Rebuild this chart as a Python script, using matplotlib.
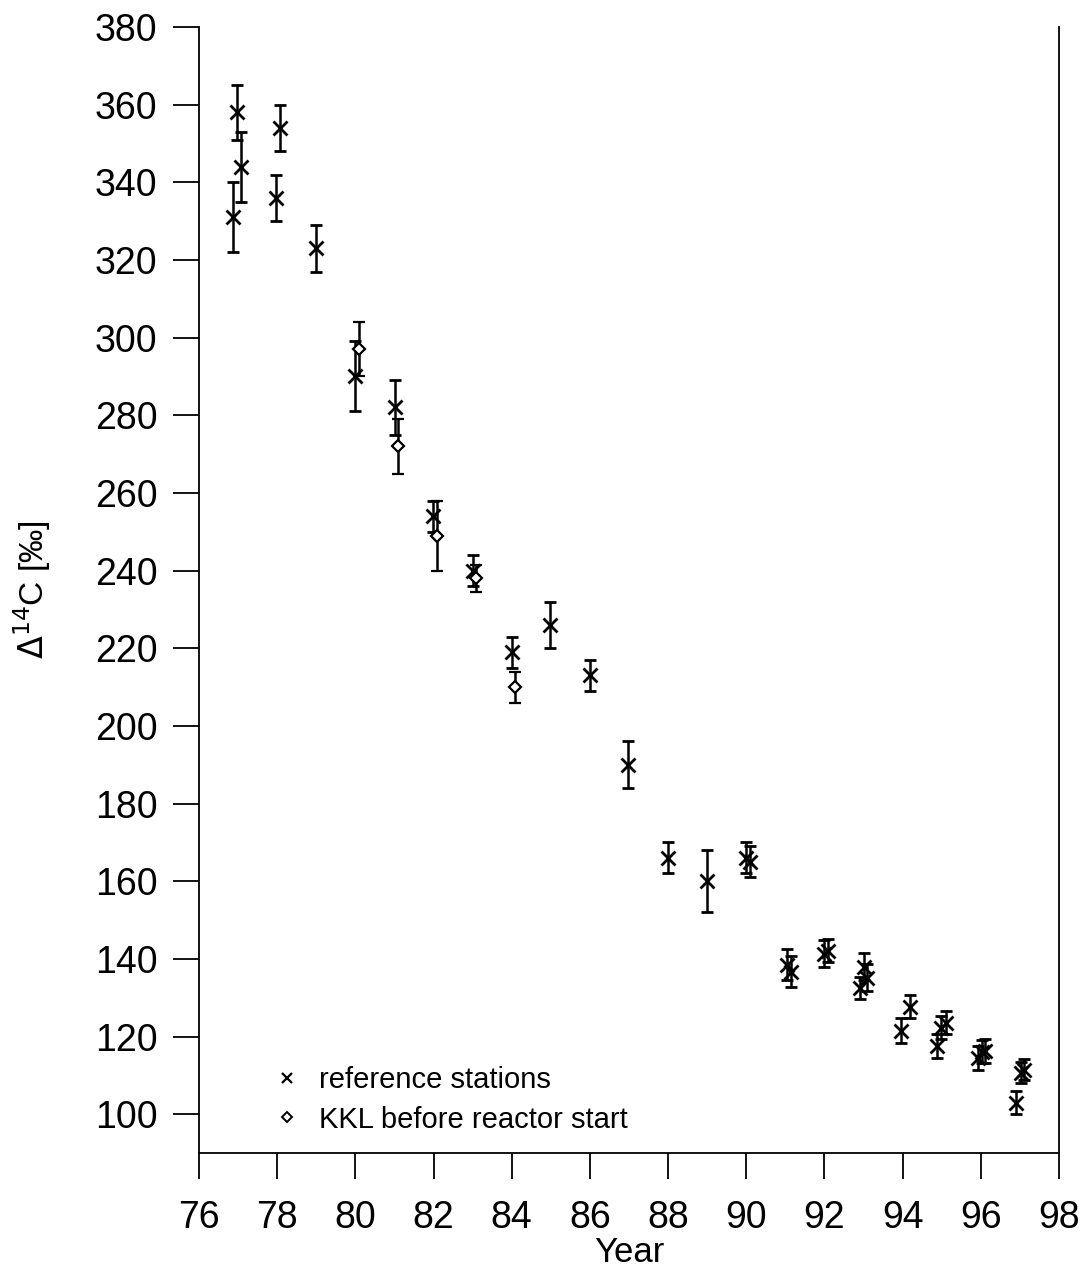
import matplotlib
matplotlib.use("Agg")
import matplotlib.pyplot as plt
from matplotlib.lines import Line2D

plt.rcParams['font.family'] = ['Liberation Sans', 'DejaVu Sans']

# reference stations (year, delta14C, error)
ref_year = [76.87, 76.97, 77.07, 77.97, 78.07, 78.99, 79.99, 81.01, 81.98, 83.0,
            84.0, 84.98, 86.0, 86.97, 88.0, 89.0, 90.0, 90.1, 91.04, 91.15,
            92.0, 92.1, 92.9, 93.0, 93.1, 93.96, 94.2, 94.87, 94.98, 95.1,
            95.92, 96.02, 96.12, 96.9, 97.02, 97.1]
ref_val = [331, 358, 344, 336, 354, 323, 290, 282, 254, 240,
           219, 226, 213, 190, 166, 160, 166, 165, 138.5, 136.7,
           141.3, 142.1, 132.6, 138, 135.2, 121.5, 127.7, 117.6, 122.3, 123.6,
           114.5, 116.1, 116.3, 103, 110.7, 111.4]
ref_err = [9, 7, 9, 6, 6, 6, 9, 7, 4, 4,
           4, 6, 4, 6, 4, 8, 4, 4, 4, 4,
           3.5, 3, 2.8, 3.5, 3.5, 3.2, 3, 3, 3, 3,
           3, 3, 3, 3, 2.7, 2.7]

# KKL before reactor start
kkl_year = [80.09, 81.1, 82.09, 83.08, 84.08]
kkl_val = [297, 272, 249, 238, 210]
kkl_err = [7, 7, 9, 3.5, 4]

fig = plt.figure(figsize=(10.85, 12.71), dpi=100)
ax = fig.add_axes([0.1834, 0.0928, 0.7926, 0.886])

ax.errorbar(ref_year, ref_val, yerr=ref_err, fmt='x', color='k', ms=10, mew=2.0,
            elinewidth=1.8, capsize=4.5, capthick=1.8)
ax.errorbar(kkl_year, kkl_val, yerr=kkl_err, fmt='D', color='k', mfc='white', ms=6,
            mew=1.6, elinewidth=1.8, capsize=4.5, capthick=1.8)

ax.set_xlim(76, 98)
ax.set_ylim(90, 380)
ax.set_xticks(range(76, 99, 2))
ax.set_yticks(range(100, 381, 20))
ax.spines['top'].set_visible(False)
for s in ['left', 'right', 'bottom']:
    ax.spines[s].set_linewidth(1.3)
ax.tick_params(axis='both', direction='out', length=19, width=1.3, labelsize=27)
ax.tick_params(axis='x', pad=15)
ax.tick_params(axis='y', pad=11)

ax.set_xlabel('Year', fontsize=25, labelpad=0)
ax.set_ylabel(r'$\Delta^{14}$C [‰]', fontsize=24, labelpad=30)

handles = [Line2D([], [], ls='none', marker='x', color='k', ms=7, mew=1.6),
           Line2D([], [], ls='none', marker='D', color='k', mfc='white', ms=5, mew=1.4)]
ax.legend(handles, ['reference stations', 'KKL before reactor start'],
          loc='lower left', bbox_to_anchor=(0.055, -0.006), frameon=False,
          fontsize=21, handlelength=1.0, handletextpad=0.6, labelspacing=0.4)

fig.savefig('out.png', dpi=100)
